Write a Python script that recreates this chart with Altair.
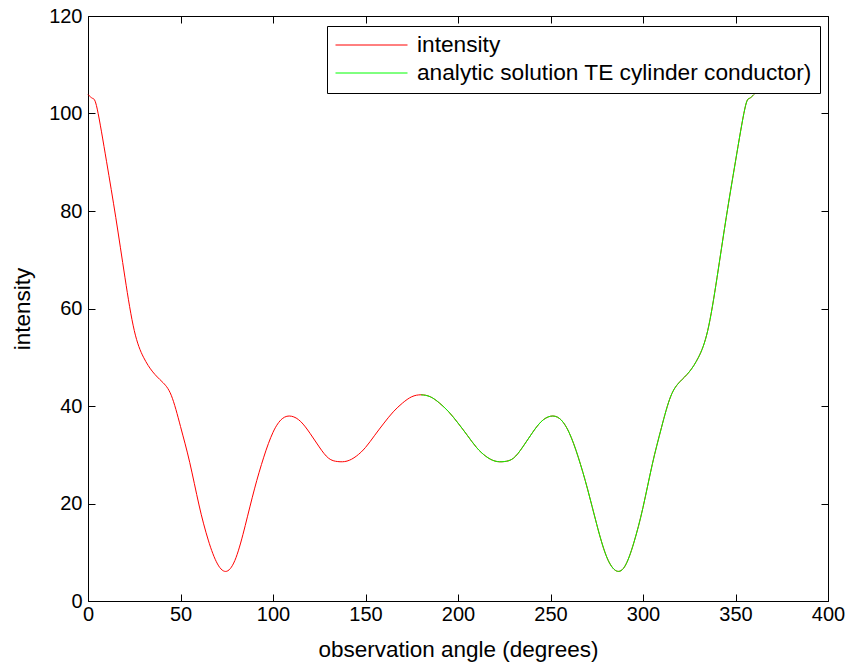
import altair as alt
import pandas as pd

SERIES = ["intensity", "analytic solution TE cylinder conductor)"]
COLORS = ["#ff0000", "#00ff00"]

angle_red = [0, 2.5] + list(range(5, 360, 5)) + [357.5, 360]
intensity_red = [
    103.9, 103.1, 100.9, 90.2, 78.7, 66.3, 55.5, 50.0, 47.0, 45.0, 42.2,
    35.8, 28.4, 19.7, 12.5, 7.6, 6.1, 8.9, 15.5, 23.0, 29.5,
    34.6, 37.4, 37.9, 36.8, 34.4, 31.6, 29.3, 28.6, 28.7, 29.7,
    31.5, 34.0, 36.5, 38.8, 40.6, 41.9, 42.3, 41.9, 40.6, 38.8,
    36.5, 34.0, 31.5, 29.7, 28.7, 28.6, 29.3, 31.6, 34.4, 36.8,
    37.9, 37.4, 34.6, 29.5, 23.0, 15.7, 9.4, 6.3, 7.0, 11.9,
    19.2, 28.0, 35.6, 42.0, 45.0, 47.0, 50.0, 55.5, 66.3, 78.7,
    90.2, 100.9, 103.1, 103.9,
]

angle_green = list(range(180, 360, 5)) + [357.5, 360]
intensity_green = [
    42.3, 41.9, 40.6, 38.8, 36.5, 34.0, 31.5, 29.7, 28.7, 28.6,
    29.3, 31.6, 34.4, 36.8, 37.9, 37.4, 34.6, 29.5, 23.0, 15.7,
    9.4, 6.3, 7.0, 11.9, 19.2, 28.0, 35.6, 42.0, 45.0, 47.0,
    50.0, 55.5, 66.3, 78.7, 90.2, 100.9, 103.1, 103.9,
]

x_ticks = [0, 50, 100, 150, 200, 250, 300, 350, 400]
y_ticks = [0, 20, 40, 60, 80, 100, 120]

df = pd.concat([
    pd.DataFrame({"angle": angle_red, "value": intensity_red, "series": SERIES[0], "order": 0}),
    pd.DataFrame({"angle": angle_green, "value": intensity_green, "series": SERIES[1], "order": 1}),
])

FONT = "Liberation Sans, Arial, Helvetica, sans-serif"

x_scale = alt.Scale(domain=[0, 400], nice=False, zero=False)
y_scale = alt.Scale(domain=[0, 120], nice=False, zero=False)

main = alt.Chart(df).mark_line(strokeWidth=1, interpolate="natural").encode(
    x=alt.X("angle:Q", scale=x_scale,
            axis=alt.Axis(values=x_ticks, orient="bottom", offset=-7, tickSize=7,
                          tickColor="black", tickWidth=1, domain=False, grid=False,
                          labelFont=FONT, labelFontSize=20, labelColor="black",
                          labelPadding=3, labelFlush=False,
                          title="observation angle (degrees)", titleFont=FONT,
                          titleFontSize=22.5, titleFontWeight="normal", titleColor="black",
                          titlePadding=14)),
    y=alt.Y("value:Q", scale=y_scale,
            axis=alt.Axis(values=y_ticks, orient="left", offset=-7, tickSize=7,
                          tickColor="black", tickWidth=1, domain=False, grid=False,
                          labelFont=FONT, labelFontSize=20, labelColor="black",
                          labelPadding=6, labelFlush=False,
                          title="intensity", titleFont=FONT,
                          titleFontSize=22.5, titleFontWeight="normal", titleColor="black",
                          titlePadding=14)),
    color=alt.Color("series:N", scale=alt.Scale(domain=SERIES, range=COLORS),
                    legend=alt.Legend(title=None, orient="none", legendX=239, legendY=10,
                                      symbolType="stroke", symbolSize=5184,
                                      symbolStrokeWidth=1, labelFont=FONT,
                                      labelFontSize=22.7, labelColor="black",
                                      labelOffset=9, padding=8, rowPadding=5,
                                      clipHeight=22,
                                      strokeColor="black", fillColor="white",
                                      labelLimit=600)),
    order=alt.Order("order:Q"),
    detail="series:N",
)

ticks_other = alt.Chart(df).mark_line(opacity=0).encode(
    x=alt.X("angle:Q", scale=x_scale,
            axis=alt.Axis(values=x_ticks, orient="top", offset=-7, tickSize=7,
                          tickColor="black", tickWidth=1, domain=False, grid=False,
                          labels=False, title=None)),
    y=alt.Y("value:Q", scale=y_scale,
            axis=alt.Axis(values=y_ticks, orient="right", offset=-7, tickSize=7,
                          tickColor="black", tickWidth=1, domain=False, grid=False,
                          labels=False, title=None)),
)

chart = alt.layer(ticks_other, main).resolve_axis(
    x="independent", y="independent"
).properties(
    width=740, height=585,
    autosize=alt.AutoSizeParams(type="none"),
    padding={"left": 88, "top": 16, "right": 25, "bottom": 66},
    background="white",
).configure_view(stroke="black", strokeWidth=1)

chart.save("out.html", embed_options={"renderer": "svg", "actions": False})
